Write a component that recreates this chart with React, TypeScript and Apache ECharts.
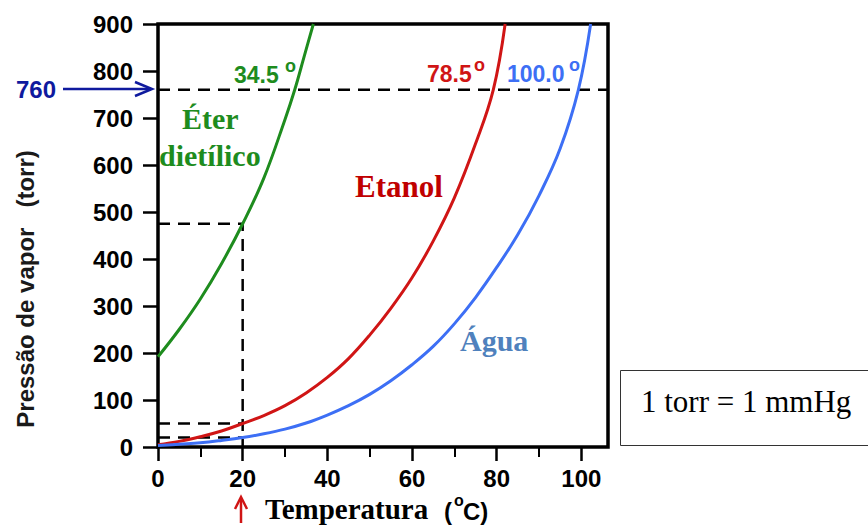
import React, { useEffect, useRef } from "react";
import * as echarts from "echarts";

// ---- data ----
const eterTemp = [0, 5, 10, 15, 20, 25, 30, 32.3, 34.5, 36.7];
const eterPress = [192, 250, 315, 390, 475, 572, 697, 760, 830, 900];

const etanolTemp = [0, 5, 10, 15, 20, 25, 30, 35, 40, 45, 50, 55, 60, 65, 70, 75, 79.2, 82];
const etanolPress = [5, 12, 22, 34, 50, 67, 88, 115, 148, 188, 238, 295, 360, 438, 530, 645, 760, 900];

const aguaTemp = [0, 5, 10, 15, 20, 25, 30, 35, 40, 45, 50, 55, 60, 65, 70, 75, 80, 85, 90, 95, 99.3, 102.2];
const aguaPress = [3, 6, 9, 14, 20, 28, 38, 51, 68, 88, 112, 141, 175, 214, 262, 318, 382, 452, 535, 635, 760, 900];

const xTickValues = [0, 20, 40, 60, 80, 100];
const xMinorTickValues = [10, 30, 50, 70, 90];
const xMax = 106.3;
const yMax = 900;
const yInterval = 100;

const pressaoAtm = 760;
const tempRef = 20;
const eterAt20 = 475;
const etanolAt20 = 50;
const aguaAt20 = 20;

const zip = (xs: number[], ys: number[]) => xs.map((x, i) => [x, ys[i]]);

const SANS = "'Liberation Sans', Arial, sans-serif";
const SERIF = "'Liberation Serif', 'Times New Roman', serif";

const GREEN = "#1e8c1e";
const RED = "#d01515";
const BLUE = "#3d6ff5";

const txt = (
  x: number,
  y: number,
  text: string,
  font: string,
  fill: string,
  align: string = "left"
) => ({
  type: "text",
  x,
  y,
  style: { text, font, fill, align, verticalAlign: "middle" },
});

export default function App() {
  const ref = useRef<HTMLDivElement>(null);

  useEffect(() => {
    if (!ref.current) return;
    const chart = echarts.init(ref.current, undefined, { renderer: "svg" });

    const dashed = { color: "#000", width: 2.5, type: [12, 8] as any };
    const dashSeries = (data: number[][]) => ({
      type: "line",
      data,
      symbol: "none",
      silent: true,
      lineStyle: dashed,
      z: 1,
    });

    const curve = (data: number[][], color: string) => ({
      type: "line",
      data,
      symbol: "none",
      smooth: 0.4,
      lineStyle: { color, width: 3 },
      z: 3,
    });

    chart.setOption({
      animation: false,
      backgroundColor: "#fff",
      grid: {
        left: 158,
        top: 24,
        width: 450,
        height: 423,
        show: true,
        borderColor: "#000",
        borderWidth: 3.5,
        backgroundColor: "transparent",
      },
      xAxis: [
        {
          type: "value",
          min: 0,
          max: xMax,
          axisLine: { show: false },
          splitLine: { show: false },
          axisTick: {
            show: true,
            customValues: xTickValues,
            length: 14,
            lineStyle: { color: "#000", width: 2.5 },
          },
          axisLabel: {
            customValues: xTickValues,
            margin: 19,
            color: "#000",
            fontFamily: SANS,
            fontWeight: "bold",
            fontSize: 24,
          },
        },
        {
          type: "value",
          min: 0,
          max: xMax,
          position: "bottom",
          axisLine: { show: false },
          splitLine: { show: false },
          axisTick: {
            show: true,
            customValues: xMinorTickValues,
            length: 10,
            lineStyle: { color: "#000", width: 2 },
          },
          axisLabel: { show: false },
        },
      ],
      yAxis: {
        type: "value",
        min: 0,
        max: yMax,
        interval: yInterval,
        axisLine: { show: false },
        splitLine: { show: false },
        axisTick: {
          show: true,
          length: 15,
          lineStyle: { color: "#000", width: 2.5 },
        },
        axisLabel: {
          margin: 25,
          color: "#000",
          fontFamily: SANS,
          fontWeight: "bold",
          fontSize: 24,
        },
      },
      series: [
        dashSeries([[0, pressaoAtm], [xMax, pressaoAtm]]),
        dashSeries([[0, eterAt20], [tempRef, eterAt20], [tempRef, 0]]),
        dashSeries([[0, etanolAt20], [tempRef, etanolAt20]]),
        dashSeries([[0, aguaAt20], [tempRef, aguaAt20]]),
        curve(zip(eterTemp, eterPress), GREEN),
        curve(zip(etanolTemp, etanolPress), RED),
        curve(zip(aguaTemp, aguaPress), BLUE),
      ],
      graphic: [
        // y axis title
        {
          type: "text",
          x: 25,
          y: 289,
          rotation: Math.PI / 2,
          style: {
            text: "Pressão de vapor   (torr)",
            font: `bold 24px ${SANS}`,
            fill: "#1a1a1a",
            align: "center",
            verticalAlign: "middle",
          },
        },
        // x axis title
        txt(265, 509, "Temperatura", `bold 29px ${SERIF}`, "#000"),
        txt(444, 511, "(", `bold 24px ${SANS}`, "#000"),
        txt(454, 500, "o", `bold 16px ${SANS}`, "#000"),
        txt(463, 511, "C)", `bold 24px ${SANS}`, "#000"),
        // 760 arrow
        txt(16, 89, "760", `bold 24px ${SANS}`, "#0f1a9e"),
        {
          type: "line",
          shape: { x1: 63, y1: 89, x2: 151, y2: 89 },
          style: { stroke: "#0f1a9e", lineWidth: 2.5 },
        },
        {
          type: "polyline",
          shape: { points: [[135, 82], [152, 89], [135, 96]] },
          style: { stroke: "#0f1a9e", lineWidth: 2.5, fill: "none" },
        },
        // red arrow at 20
        {
          type: "line",
          shape: { x1: 241, y1: 523, x2: 241, y2: 498 },
          style: { stroke: RED, lineWidth: 2.5 },
        },
        {
          type: "polyline",
          shape: { points: [[235, 509], [241, 497], [247, 509]] },
          style: { stroke: RED, lineWidth: 2.5, fill: "none" },
        },
        // boiling point labels
        txt(234, 75, "34.5", `bold 23px ${SANS}`, GREEN),
        txt(285, 66, "o", `bold 18px ${SANS}`, GREEN),
        txt(427, 74, "78.5", `bold 23px ${SANS}`, RED),
        txt(474, 65, "o", `bold 18px ${SANS}`, RED),
        txt(507, 74, "100.0", `bold 23px ${SANS}`, BLUE),
        txt(569, 65, "o", `bold 18px ${SANS}`, BLUE),
        // substance labels
        txt(182, 118, "Éter", `bold 30px ${SERIF}`, GREEN),
        txt(159, 155, "dietílico", `bold 30px ${SERIF}`, GREEN),
        txt(355, 186, "Etanol", `bold 31px ${SERIF}`, "#c00000"),
        txt(460, 340, "Água", `bold 30px ${SERIF}`, "#4f81bd"),
        // unit box
        {
          type: "rect",
          shape: { x: 620.5, y: 370.5, width: 260, height: 75 },
          style: { stroke: "#333", lineWidth: 1, fill: "#fff" },
        },
        txt(641, 401, "1 torr = 1 mmHg", `31px ${SERIF}`, "#000"),
      ],
    });

    return () => chart.dispose();
  }, []);

  return (
    <div
      ref={ref}
      style={{ position: "fixed", left: 0, top: 0, width: 868, height: 525 }}
    />
  );
}
